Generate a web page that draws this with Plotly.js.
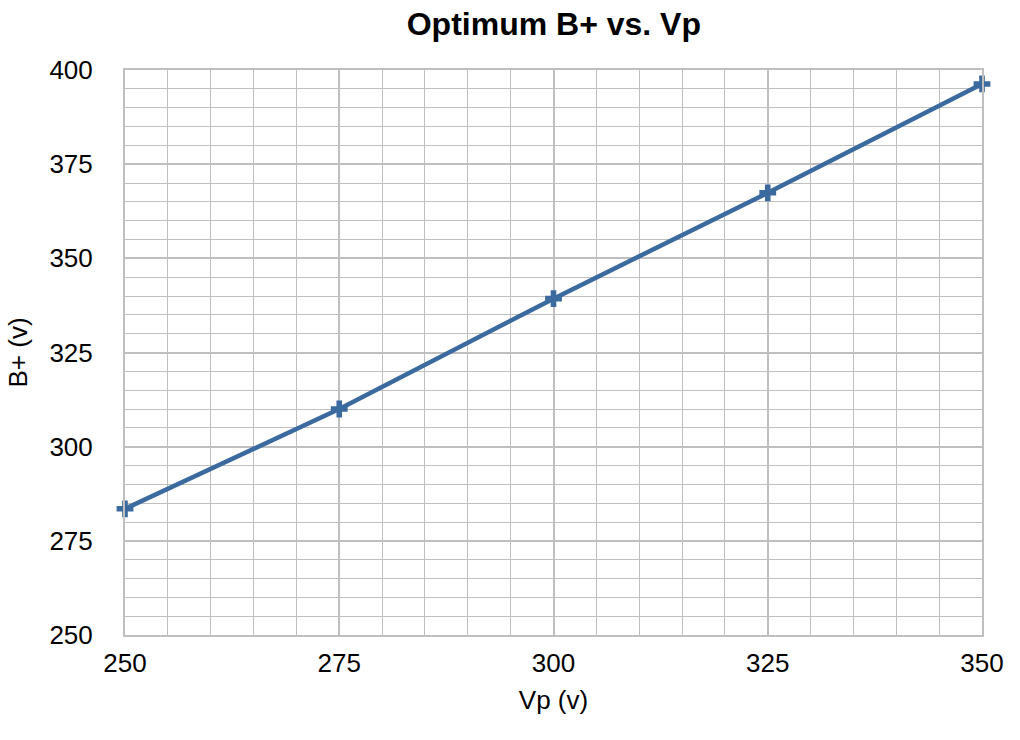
<!DOCTYPE html>
<html>
<head>
<meta charset="utf-8">
<script src="https://cdn.plot.ly/plotly-3.0.1.min.js"></script>
<style>
  html, body { margin: 0; padding: 0; background: #fff; }
  #chart { width: 1020px; height: 740px; }
</style>
</head>
<body>
<div id="chart"></div>
<script>
const vp = [250, 275, 300, 325, 350];
const bPlus = [283.5, 310, 339.3, 367.4, 396.3];
const xTicks = [250, 275, 300, 325, 350];
const yTicks = [250, 275, 300, 325, 350, 375, 400];

const gridGray = '#bfbfbf';
const lineBlue = '#3b6a9f';

let trace = {
  x: vp,
  y: bPlus,
  type: 'scatter',
  mode: 'lines+markers',
  cliponaxis: false,
  line: { color: lineBlue, width: 4.5 },
  marker: { symbol: 'cross', size: 14, color: lineBlue },
  hoverinfo: 'x+y',
};

let axisCommon = {
  dtick: 25,
  showgrid: true,
  gridcolor: gridGray,
  gridwidth: 2,
  zeroline: false,
  showline: true,
  linecolor: gridGray,
  linewidth: 2,
  mirror: true,
  ticks: '',
  tickfont: { size: 26, color: '#000' },
  minor: { dtick: 5, showgrid: true, gridcolor: gridGray, gridwidth: 1 },
};

let layout = {
  width: 1020,
  height: 740,
  margin: { l: 125, r: 38, t: 70, b: 105 },
  paper_bgcolor: '#fff',
  plot_bgcolor: '#fff',
  font: { family: 'Liberation Sans, Arial, sans-serif', color: '#000' },
  showlegend: false,
  title: {
    text: '<b>Optimum B+ vs. Vp</b>',
    font: { size: 32, color: '#000' },
    x: 0.543,
    xanchor: 'center',
    y: 0.968,
    yanchor: 'middle',
  },
  xaxis: Object.assign({}, axisCommon, {
    range: [250, 350],
    tickvals: xTicks,
    ticklabelstandoff: 4,
    title: { text: 'Vp (v)', font: { size: 26 }, standoff: 14 },
  }),
  yaxis: Object.assign({}, axisCommon, {
    range: [250, 400],
    tickvals: yTicks,
    ticklabelstandoff: 25,
    title: { text: 'B+ (v)', font: { size: 26 }, standoff: 14 },
  }),
};

Plotly.newPlot('chart', [trace], layout, { displayModeBar: false, staticPlot: true });
</script>
</body>
</html>
